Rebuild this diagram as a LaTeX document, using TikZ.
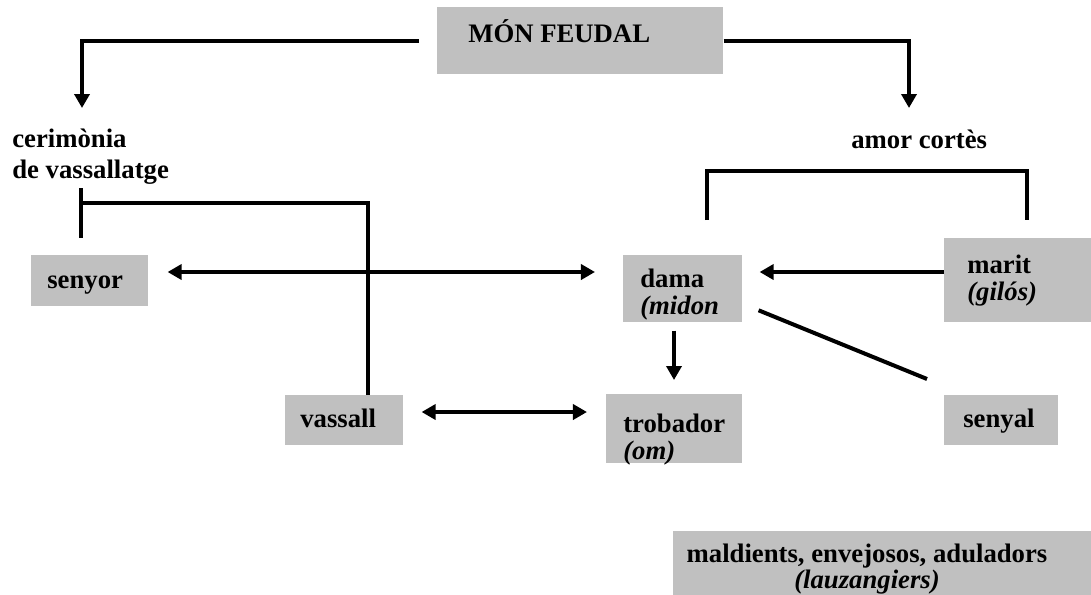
\documentclass[tikz,border=0pt]{standalone}
\usepackage{fontspec}
\setmainfont{Liberation Serif}
\usepackage{tikz}
\usetikzlibrary{arrows.meta,calc}
\definecolor{boxgrey}{RGB}{192,192,192}

\begin{document}
\begin{tikzpicture}[x=0.025cm, y=-0.025cm, every node/.style={font=\bfseries\fontsize{19}{19}\selectfont}]
\tikzstyle{box}=[fill=boxgrey, inner sep=0pt, anchor=north west]
\tikzstyle{txt}=[anchor=base west, inner sep=0pt, align=left]
\tikzstyle{conn}=[line width=0.1cm]
\tikzstyle{arr}=[conn, -{Triangle[width=0.375cm,length=0.35cm]}]
\tikzstyle{dblarr}=[conn, {Triangle[width=0.375cm,length=0.35cm]}-{Triangle[width=0.375cm,length=0.35cm]}]
\useasboundingbox (0,0) rectangle (1091,594);
\node[box, minimum width=7.15cm, minimum height=1.675cm] (feudal) at (437,7) {};
\node[box, minimum width=2.925cm, minimum height=1.275cm] (senyor) at (31,255) {};
\node[box, minimum width=2.975cm, minimum height=1.675cm] (dama) at (623,255) {};
\node[box, minimum width=4cm, minimum height=2.1cm] (marit) at (944,238) {};
\node[box, minimum width=2.95cm, minimum height=1.25cm] (vassall) at (285,395) {};
\node[box, minimum width=3.4cm, minimum height=1.725cm] (trobador) at (606,394) {};
\node[box, minimum width=2.85cm, minimum height=1.25cm] (senyal) at (944,395) {};
\node[box, minimum width=10.75cm, minimum height=1.75cm] (maldients) at (673,531) {};
\node[txt] (feudaltxt) at (468,42) {MÓN FEUDAL};
\node[txt, font=\bfseries\fontsize{19}{21.5}\selectfont] (cerimonia) at (12,178) {cerimònia\\de vassallatge};
\node[txt] (amor) at (851,148) {amor cortès};
\node[txt] (senyortxt) at (47,288) {senyor};
\node[txt] (damatxt) at (640,314) {dama\\\textit{(midon}};
\node[txt] (marittxt) at (967,300) {marit\\\textit{(gilós)}};
\node[txt] (vassalltxt) at (300,427) {vassall};
\node[txt] (trobadortxt) at (623,459) {trobador\\\textit{(om)}};
\node[txt] (senyaltxt) at (963,427) {senyal};
\node[anchor=base, inner sep=0pt, align=center, font=\bfseries\fontsize{19}{17}\selectfont] (maldientstxt) at (867,588) {maldients, envejosos, aduladors\\\textit{(lauzangiers)}};
\coordinate (cerarr) at (82,108);
\coordinate (amorarr) at (909,108);
\coordinate (tTop) at (81,188);
\coordinate (tBot) at (81,238);
\coordinate (tJoin) at (81,203);
\coordinate (vasTop) at (368,395);
\coordinate (brA) at (707,220);
\coordinate (brB) at (1027,220);
\coordinate (row1) at (0,272);
\coordinate (row2) at (0,412);
\coordinate (col) at (674,0);
\draw[arr] ($(feudal.west)+(-18,0)$) -| (cerarr);
\draw[arr] (feudal.east) -| (amorarr);
\draw[conn] (tTop) -- (tBot);
\draw[conn] (tJoin) -| (vasTop);
\draw[conn] (brA) -- ++(0,-49) -| (brB);
\draw[dblarr, shorten <=0.475cm, shorten >=0.7cm] (senyor.east |- row1) -- (dama.west |- row1);
\draw[arr, shorten >=0.425cm] (marit.west |- row1) -- (dama.east |- row1);
\draw[arr, shorten <=0.2cm, shorten >=0.35cm] (dama.south -| col) -- (trobador.north -| col);
\draw[conn] ($(dama.east)+(16,21.5)$) -- ($(senyal.north west)+(-17,-16)$);
\draw[dblarr, shorten <=0.45cm, shorten >=0.475cm] (vassall.east |- row2) -- (trobador.west |- row2);
\end{tikzpicture}
\end{document}
